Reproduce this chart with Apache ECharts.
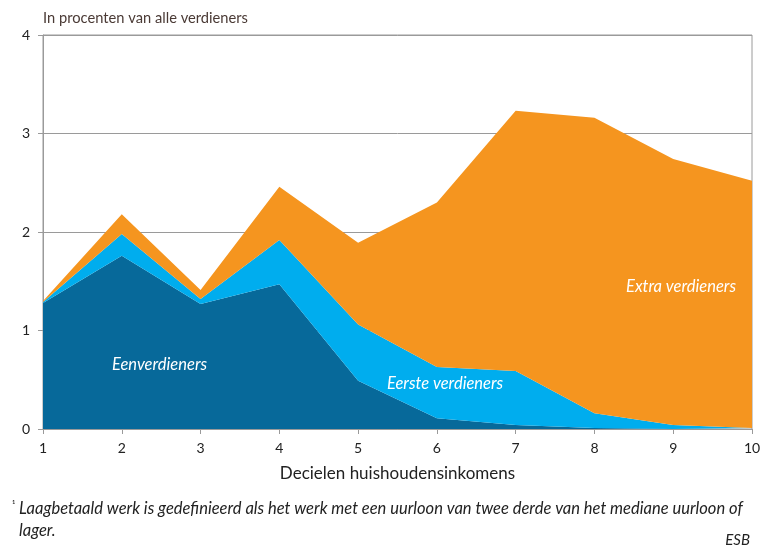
<!DOCTYPE html>
<html><head><meta charset="utf-8">
<script src="https://cdn.jsdelivr.net/npm/echarts@6/dist/echarts.min.js"></script>
<style>html,body{margin:0;padding:0;background:#fff}#c{width:764px;height:551px}</style>
</head><body><div id="c"></div>
<script>
const categories = ['1','2','3','4','5','6','7','8','9','10'];
const eenverdieners = [1.28, 1.76, 1.27, 1.47, 0.49, 0.11, 0.04, 0.01, 0.00, 0.00];
const eersteVerdieners = [0.01, 0.22, 0.05, 0.45, 0.57, 0.52, 0.55, 0.15, 0.04, 0.01];
const extraVerdieners = [0.01, 0.20, 0.09, 0.54, 0.83, 1.67, 2.64, 3.00, 2.70, 2.51];
const yTicks = [0, 1, 2, 3, 4];

const FONT = 'Lato';
const chart = echarts.init(document.getElementById('c'));
function area(name, data, color) {
  return {
    name, type: 'line', stack: 'total', data,
    symbol: 'none', lineStyle: { width: 0 },
    areaStyle: { color, opacity: 1 }, itemStyle: { color },
    emphasis: { disabled: true }
  };
}
function txt(cfg, style) {
  return Object.assign({ type: 'text', z: 100, style: Object.assign({ fontFamily: FONT, fill: '#222' }, style) }, cfg);
}
chart.setOption({
  animation: false,
  grid: { left: 43, right: 12, top: 35, bottom: 122, show: true, borderColor: '#9a9a9a', borderWidth: 1 },
  xAxis: {
    type: 'category', data: categories, boundaryGap: false,
    name: 'Decielen huishoudensinkomens', nameLocation: 'middle', nameGap: 36,
    nameTextStyle: { fontFamily: FONT, fontSize: 17, color: '#222' },
    axisLine: { lineStyle: { color: '#9a9a9a' } },
    axisTick: { show: true, length: 5, alignWithLabel: true, lineStyle: { color: '#9a9a9a' } },
    axisLabel: { fontFamily: FONT, fontSize: 14, color: '#222', margin: 12 },
    splitLine: { show: false }
  },
  yAxis: {
    type: 'value', min: yTicks[0], max: yTicks[yTicks.length - 1], interval: 1,
    axisLine: { show: true, lineStyle: { color: '#9a9a9a' } },
    axisTick: { show: true, length: 5, lineStyle: { color: '#9a9a9a' } },
    axisLabel: { fontFamily: FONT, fontSize: 14, color: '#222', margin: 13 },
    splitLine: { show: true, lineStyle: { color: '#9a9a9a', width: 1 } }
  },
  series: [
    area('Eenverdieners', eenverdieners, '#07699a'),
    area('Eerste verdieners', eersteVerdieners, '#00adee'),
    area('Extra verdieners', extraVerdieners, '#f5951f')
  ],
  graphic: [
    txt({ left: 43, top: 11 }, { text: 'In procenten van alle verdieners', fontSize: 14.7, fill: '#4a3a35' }),
    txt({ left: 112, top: 356 }, { text: 'Eenverdieners', fontStyle: 'italic', fontSize: 16.5, fill: '#ffffff' }),
    txt({ left: 387, top: 375 }, { text: 'Eerste verdieners', fontStyle: 'italic', fontSize: 16.5, fill: '#ffffff' }),
    txt({ left: 626, top: 278 }, { text: 'Extra verdieners', fontStyle: 'italic', fontSize: 16.5, fill: '#ffffff' }),
    txt({ left: 12, top: 500 }, { text: '¹', fontSize: 10 }),
    txt({ left: 19, top: 500 }, { text: 'Laagbetaald werk is gedefinieerd als het werk met een uurloon van twee derde van het mediane uurloon of', fontStyle: 'italic', fontSize: 16.5 }),
    txt({ left: 19, top: 522 }, { text: 'lager.', fontStyle: 'italic', fontSize: 16.5 }),
    txt({ right: 14, top: 533 }, { text: 'ESB', fontStyle: 'italic', fontSize: 15 })
  ]
});
</script></body></html>
